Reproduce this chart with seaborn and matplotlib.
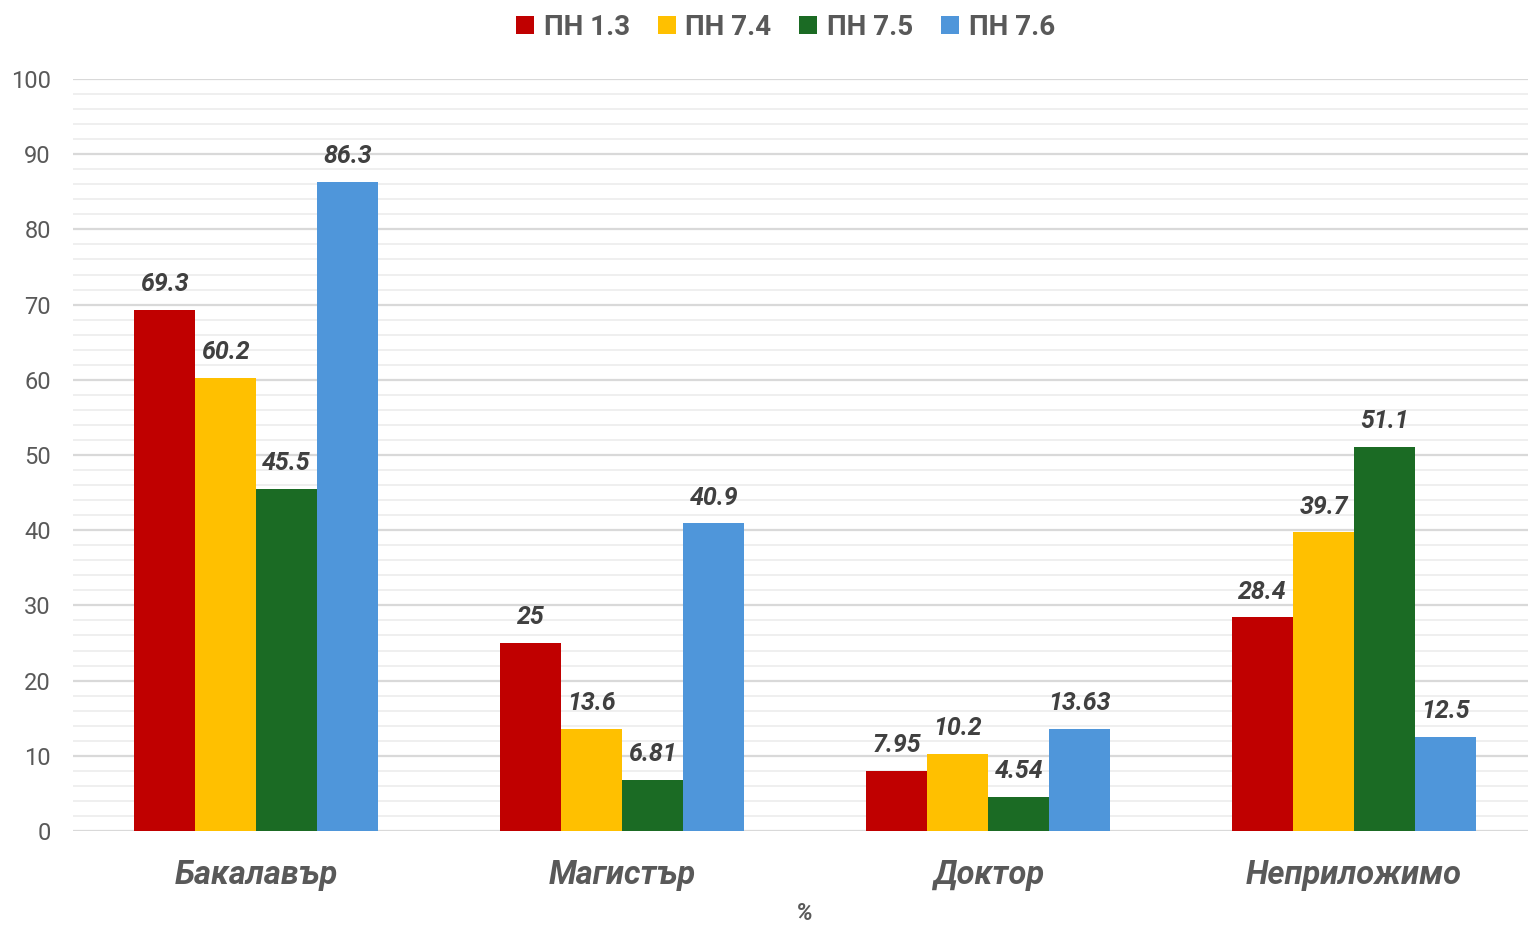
import matplotlib
matplotlib.use("Agg")
import matplotlib.pyplot as plt
import seaborn as sns
import pandas as pd
from matplotlib.patches import Patch
from matplotlib.ticker import MultipleLocator

categories = ["Бакалавър", "Магистър", "Доктор", "Неприложимо"]
series = ["ПН 1.3", "ПН 7.4", "ПН 7.5", "ПН 7.6"]
values = {
    "ПН 1.3": [69.3, 25, 7.95, 28.4],
    "ПН 7.4": [60.2, 13.6, 10.2, 39.7],
    "ПН 7.5": [45.5, 6.81, 4.54, 51.1],
    "ПН 7.6": [86.3, 40.9, 13.63, 12.5],
}
labels = {
    "ПН 1.3": ["69.3", "25", "7.95", "28.4"],
    "ПН 7.4": ["60.2", "13.6", "10.2", "39.7"],
    "ПН 7.5": ["45.5", "6.81", "4.54", "51.1"],
    "ПН 7.6": ["86.3", "40.9", "13.63", "12.5"],
}
colors = ["#C00000", "#FFC000", "#1B6B24", "#4F96DA"]

rows = []
for s in series:
    for c, v in zip(categories, values[s]):
        rows.append({"cat": c, "series": s, "value": v})
df = pd.DataFrame(rows)

sns.set_theme(style="white")
plt.rcParams["font.family"] = ["Roboto", "DejaVu Sans"]

fig = plt.figure(figsize=(15.28, 9.26), dpi=100)
ax = fig.add_axes([73 / 1528, 1 - 831 / 926, (1528 - 73) / 1528, (831 - 79) / 926])

sns.barplot(data=df, x="cat", y="value", hue="series", order=categories,
            hue_order=series, palette=colors, width=0.667, saturation=1,
            edgecolor="none", linewidth=0, ax=ax, legend=False, zorder=3)

for container, s in zip(ax.containers, series):
    ax.bar_label(container, labels=labels[s], padding=10, fontsize=18,
                 fontweight="bold", fontstyle="italic", color="#404040")

ax.set_ylim(0, 100)
ax.set_xlim(-0.5, 3.475)
ax.yaxis.set_major_locator(MultipleLocator(10))
ax.yaxis.set_minor_locator(MultipleLocator(2))
ax.grid(axis="y", which="major", color="#D9D9D9", linewidth=1.6, zorder=0)
ax.grid(axis="y", which="minor", color="#EEEEEE", linewidth=1.3, zorder=0)
ax.set_axisbelow(True)
for sp in ax.spines.values():
    sp.set_visible(False)
ax.tick_params(axis="y", which="both", length=0, labelsize=17, labelcolor="#595959", pad=16)
ax.tick_params(axis="x", length=0, pad=20)
for t in ax.get_xticklabels():
    t.set_fontsize(23.5)
    t.set_fontweight("bold")
    t.set_fontstyle("italic")
    t.set_color("#595959")
ax.set_xlabel("%", fontsize=17, fontweight="bold", fontstyle="italic", color="#595959", labelpad=8)
ax.xaxis.label.set_x(0.503)
ax.set_ylabel("")

handles = [Patch(facecolor=c, edgecolor="none") for c in colors]
fig.legend(handles, series, loc="upper center", bbox_to_anchor=(0.514, 1.012), ncol=4,
           frameon=False, prop={"size": 20, "weight": "bold"}, labelcolor="#595959",
           handlelength=0.65, handleheight=0.65, handletextpad=0.35, columnspacing=1.0)

fig.savefig("out.png", dpi=100)
